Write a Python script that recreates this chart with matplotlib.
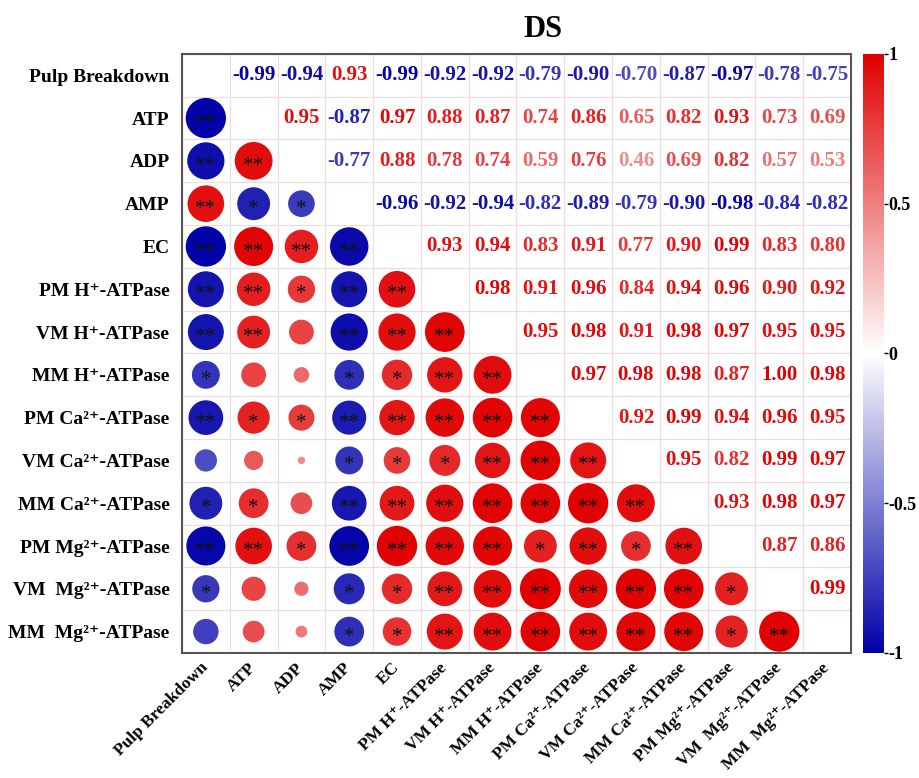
import numpy as np
import matplotlib
matplotlib.use('Agg')
import matplotlib.pyplot as plt
from matplotlib.colors import LinearSegmentedColormap, Normalize
from matplotlib.cm import ScalarMappable

plt.rcParams['font.family'] = ['Liberation Serif', 'DejaVu Serif']
plt.rcParams['font.weight'] = 'bold'

labels = ['Pulp Breakdown', 'ATP', 'ADP', 'AMP', 'EC',
          'PM H⁺-ATPase', 'VM H⁺-ATPase', 'MM H⁺-ATPase',
          'PM Ca²⁺-ATPase', 'VM Ca²⁺-ATPase', 'MM Ca²⁺-ATPase',
          'PM Mg²⁺-ATPase', 'VM  Mg²⁺-ATPase', 'MM  Mg²⁺-ATPase']

# correlation coefficients, upper triangle, row by row
upper = [
    [-0.99, -0.94, 0.93, -0.99, -0.92, -0.92, -0.79, -0.90, -0.70, -0.87, -0.97, -0.78, -0.75],
    [0.95, -0.87, 0.97, 0.88, 0.87, 0.74, 0.86, 0.65, 0.82, 0.93, 0.73, 0.69],
    [-0.77, 0.88, 0.78, 0.74, 0.59, 0.76, 0.46, 0.69, 0.82, 0.57, 0.53],
    [-0.96, -0.92, -0.94, -0.82, -0.89, -0.79, -0.90, -0.98, -0.84, -0.82],
    [0.93, 0.94, 0.83, 0.91, 0.77, 0.90, 0.99, 0.83, 0.80],
    [0.98, 0.91, 0.96, 0.84, 0.94, 0.96, 0.90, 0.92],
    [0.95, 0.98, 0.91, 0.98, 0.97, 0.95, 0.95],
    [0.97, 0.98, 0.98, 0.87, 1.00, 0.98],
    [0.92, 0.99, 0.94, 0.96, 0.95],
    [0.95, 0.82, 0.99, 0.97],
    [0.93, 0.98, 0.97],
    [0.87, 0.86],
    [0.99],
]

# significance marks, lower triangle, row by row
signif = [
    [],
    ['**'],
    ['**', '**'],
    ['**', '*', '*'],
    ['**', '**', '**', '**'],
    ['**', '**', '*', '**', '**'],
    ['**', '**', '', '**', '**', '**'],
    ['*', '', '', '*', '*', '**', '**'],
    ['**', '*', '*', '**', '**', '**', '**', '**'],
    ['', '', '', '*', '*', '*', '**', '**', '**'],
    ['*', '*', '', '**', '**', '**', '**', '**', '**', '**'],
    ['**', '**', '*', '**', '**', '**', '**', '*', '**', '*', '**'],
    ['*', '', '', '*', '*', '**', '**', '**', '**', '**', '**', '*'],
    ['', '', '', '*', '*', '**', '**', '**', '**', '**', '**', '*', '**'],
]

n = len(labels)
corr = np.eye(n)
for i, row in enumerate(upper):
    for k, v in enumerate(row):
        j = i + 1 + k
        corr[i, j] = v
        corr[j, i] = v

cmap = LinearSegmentedColormap.from_list('bwr_dark', ['#0000A8', '#FFFFFF', '#E00000'])
norm = Normalize(-1, 1)

fig = plt.figure(figsize=(9.19, 7.78), dpi=100)
ax = fig.add_axes([0.198, 0.1607, 0.728, 0.77])

# light cell grid
for k in range(n + 1):
    ax.axhline(k - 0.5, color='#EDDCDC', lw=0.9, zorder=0)
    ax.axvline(k - 0.5, color='#EDDCDC', lw=0.9, zorder=0)

# lower triangle: circles sized by |r|
xs, ys, vals = [], [], []
for i in range(n):
    for j in range(i):
        xs.append(j)
        ys.append(i)
        vals.append(corr[i, j])
vals = np.array(vals)
diam_pt = 0.72 * 62 * np.clip(np.abs(vals) - 0.34, 0.05, None)
ax.scatter(xs, ys, s=diam_pt ** 2, c=vals, cmap=cmap, norm=norm, linewidths=0, zorder=2)

for i, row in enumerate(signif):
    for j, s in enumerate(row):
        if s:
            ax.text(j, i + 0.13, s, ha='center', va='center', fontsize=15,
                    fontweight='normal', color='#111111', zorder=3)

# upper triangle: coefficient values
for i in range(n):
    for j in range(i + 1, n):
        v = corr[i, j]
        ax.text(j, i, f'{v:.2f}', ha='center', va='center', fontsize=15,
                fontweight='bold', color=cmap(norm(v)), zorder=3)

ax.set_xlim(-0.5, n - 0.5)
ax.set_ylim(n - 0.5, -0.5)
ax.set_xticks(range(n))
ax.set_yticks(range(n))
ax.set_xticklabels(labels, rotation=45, ha='right', va='center', rotation_mode='anchor',
                   fontsize=12.5, fontweight='bold')
ax.set_yticklabels(labels, fontsize=14, fontweight='bold')
ax.tick_params(axis='y', length=0, pad=9)
ax.tick_params(axis='x', length=0, pad=9)
for sp in ax.spines.values():
    sp.set_color('#555555')
    sp.set_linewidth(1.5)

fig.text(0.591, 0.962, 'DS', ha='center', va='center', fontsize=22, fontweight='bold')

cax = fig.add_axes([0.939, 0.1607, 0.0229, 0.77])
cb = fig.colorbar(ScalarMappable(norm=norm, cmap=cmap), cax=cax)
cb.outline.set_visible(False)
cb.set_ticks([-1, -0.5, 0, 0.5, 1])
cb.set_ticklabels(['-1', '-0.5', '0', '0.5', '1'])
cax.tick_params(length=3, width=1, labelsize=13, pad=0.5)
for t in cax.get_yticklabels():
    t.set_fontweight('bold')

fig.savefig('out.png', dpi=100)
